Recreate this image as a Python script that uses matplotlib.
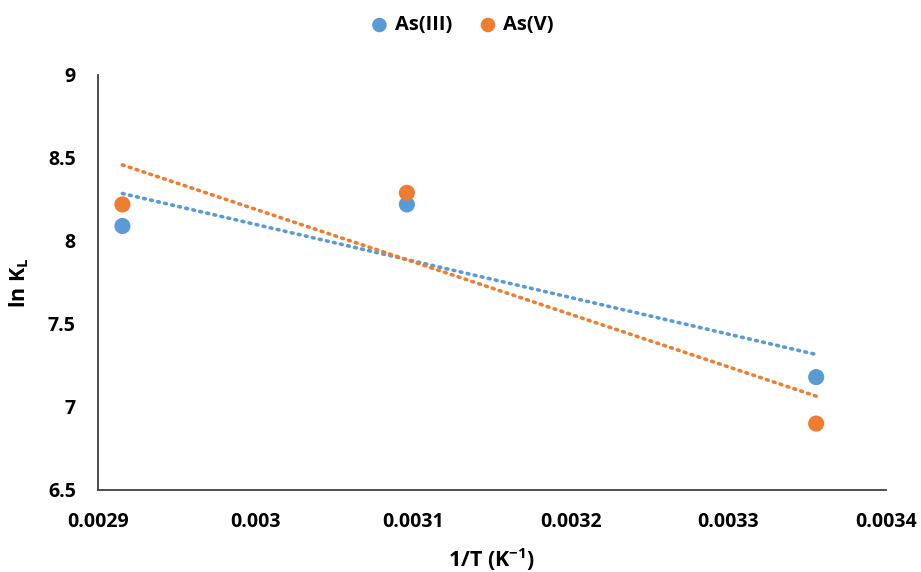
import numpy as np
import matplotlib
matplotlib.use('Agg')
import matplotlib.pyplot as plt

# inverse temperature (1/K) for 343, 323 and 298 K
inv_T = [0.0029155, 0.0030960, 0.0033557]
ln_kl_as3 = [8.09, 8.22, 7.18]
ln_kl_as5 = [8.22, 8.29, 6.90]

labels = ['As(III)', 'As(V)']
colors = ['#5B9BD5', '#ED7D31']

x_ticks = [0.0029, 0.003, 0.0031, 0.0032, 0.0033, 0.0034]
x_tick_labels = ['0.0029', '0.003', '0.0031', '0.0032', '0.0033', '0.0034']
y_ticks = [6.5, 7, 7.5, 8, 8.5, 9]
y_tick_labels = ['6.5', '7', '7.5', '8', '8.5', '9']

plt.rcParams['font.family'] = ['Open Sans', 'DejaVu Sans']
plt.rcParams['font.weight'] = 'bold'
plt.rcParams['mathtext.fontset'] = 'custom'
plt.rcParams['mathtext.bf'] = 'Open Sans:bold'
plt.rcParams['mathtext.rm'] = 'Open Sans:bold'
plt.rcParams['mathtext.default'] = 'bf'

fig = plt.figure(figsize=(9.21, 5.72), dpi=100)
ax = fig.add_axes([0.1064, 0.1434, 0.8556, 0.7256])

x = np.array(inv_T)
for ys, lab, col in zip([ln_kl_as3, ln_kl_as5], labels, colors):
    # linear trendline like Excel
    slope, icpt = np.polyfit(x, ys, 1)
    ax.plot(x[[0, -1]], slope * x[[0, -1]] + icpt, color=col, lw=2.6,
            linestyle=(0, (0.5, 1.5)), dash_capstyle='round', zorder=2)
    ax.scatter(x, ys, s=135, color=col, label=lab, zorder=3, edgecolors='none')

ax.set_xlim(0.0029, 0.0034)
ax.set_ylim(6.5, 9)
ax.set_xticks(x_ticks)
ax.set_xticklabels(x_tick_labels)
ax.set_yticks(y_ticks)
ax.set_yticklabels(y_tick_labels)
ax.tick_params(length=0, labelsize=14, pad=16)
ax.tick_params(axis='y', pad=16)
for t in ax.get_xticklabels() + ax.get_yticklabels():
    t.set_fontweight('bold')

for side in ['top', 'right']:
    ax.spines[side].set_visible(False)
for side in ['left', 'bottom']:
    ax.spines[side].set_color('#404040')
    ax.spines[side].set_linewidth(1.3)

ax.set_xlabel('1/T (K$^{-1}$)', fontsize=15.5, fontweight='bold', labelpad=10)
ax.set_ylabel('ln K$_{L}$', fontsize=15.5, fontweight='bold', labelpad=12)

leg = fig.legend(loc='upper center', bbox_to_anchor=(0.5, 1.005), ncol=2, frameon=False,
                 fontsize=14.5, handletextpad=0.15, handlelength=1.2,
                 columnspacing=1.2, markerscale=0.9)
for t in leg.get_texts():
    t.set_fontweight('bold')

fig.savefig('out.png', dpi=100)
